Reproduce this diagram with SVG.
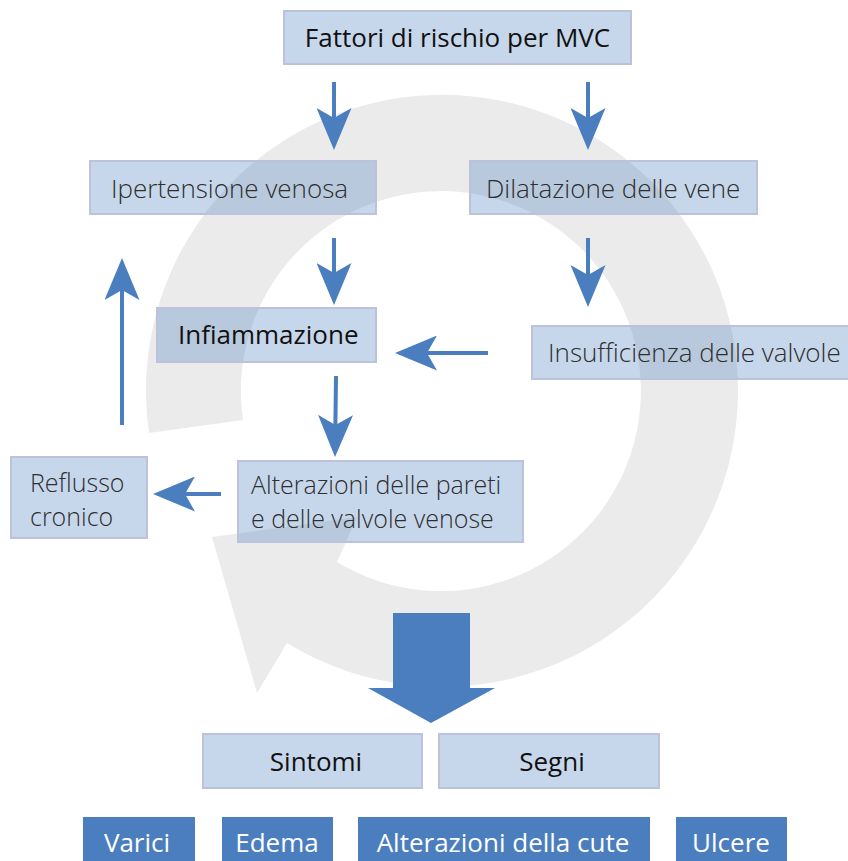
<svg xmlns="http://www.w3.org/2000/svg" width="848" height="861" viewBox="0 0 848 861">
<style>
.bg{fill:#ffffff}
.ring{fill:#ebebeb}
.box{fill:#4a7ebf;fill-opacity:0.31;stroke:#bcc2d9;stroke-width:2}
.dbox{fill:#4a7ebf}
.t{font-family:"Open Sans","Noto Sans","Liberation Sans",sans-serif;font-size:26px}
.t2{font-size:25px}
.lt{font-weight:300;fill:#2e2e2e}
.rg{font-weight:400;fill:#111111}
.md{font-weight:500;fill:#111111}
.wt{font-weight:400;fill:#ffffff}
.arr{stroke:#4a7ebf;stroke-width:4;fill:none;marker-end:url(#head)}
</style>
<defs>
<marker id="head" viewBox="0 0 42 35" refX="10" refY="17.5" markerWidth="42" markerHeight="35" markerUnits="userSpaceOnUse" orient="auto">
<path d="M0,0 L42,17.5 L0,35 L10,17.5 Z" fill="#4a7ebf"/>
</marker>
</defs>
<rect class="bg" x="0" y="0" width="848" height="861"/>
<g id="cycle">
<path class="ring" d="M149,433 A296,296 0 1 1 287,643 L257,693 L212,537 L357,517 L337,562 A200,200 0 1 0 243,420 Z"/>
</g>
<g id="connectors">
<line class="arr" x1="334" y1="82" x2="334" y2="118"/>
<line class="arr" x1="588" y1="82" x2="588" y2="118"/>
<line class="arr" x1="334" y1="238" x2="334" y2="273"/>
<line class="arr" x1="588" y1="238" x2="588" y2="275"/>
<line class="arr" x1="488" y1="353" x2="427" y2="353"/>
<line class="arr" x1="336" y1="376" x2="335.4" y2="425"/>
<line class="arr" x1="221" y1="494" x2="185" y2="494"/>
<line class="arr" x1="122" y1="425" x2="122" y2="290"/>
<path id="big-arrow" d="M393,613 L470,613 L470,688 L495,688 L431,723 L368,688 L393,688 Z" fill="#4a7ebf"/>
</g>
<g id="fattori">
<rect class="box" x="284" y="11" width="347" height="53"/>
<text class="t rg" x="457.5" y="47" text-anchor="middle">Fattori di rischio per MVC</text>
</g>
<g id="ipertensione">
<rect class="box" x="90" y="161" width="286" height="53"/>
<text class="t lt" x="111" y="198">Ipertensione venosa</text>
</g>
<g id="dilatazione">
<rect class="box" x="470" y="161" width="287" height="53"/>
<text class="t lt" x="486" y="198">Dilatazione delle vene</text>
</g>
<g id="infiammazione">
<rect class="box" x="157" y="308" width="219" height="54"/>
<text class="t md" x="178" y="344">Infiammazione</text>
</g>
<g id="insufficienza">
<rect class="box" x="532" y="326" width="330" height="53"/>
<text class="t lt" x="548" y="362">Insufficienza delle valvole</text>
</g>
<g id="reflusso">
<rect class="box" x="11" y="457" width="136" height="81"/>
<text class="t t2 lt" x="30" y="492">Reflusso</text>
<text class="t t2 lt" x="30" y="526">cronico</text>
</g>
<g id="alterazioni">
<rect class="box" x="238" y="461" width="285" height="81"/>
<text class="t t2 lt" x="251" y="494">Alterazioni delle pareti</text>
<text class="t t2 lt" x="251" y="528">e delle valvole venose</text>
</g>
<g id="sintomi">
<rect class="box" x="203" y="734" width="219" height="54"/>
<text class="t rg" x="316" y="771" text-anchor="middle">Sintomi</text>
</g>
<g id="segni">
<rect class="box" x="439" y="734" width="220" height="54"/>
<text class="t rg" x="552" y="771" text-anchor="middle">Segni</text>
</g>
<g id="varici">
<rect class="dbox" x="83" y="817" width="112" height="50"/>
<text class="t wt" x="137" y="852" text-anchor="middle">Varici</text>
</g>
<g id="edema">
<rect class="dbox" x="222" y="817" width="111" height="50"/>
<text class="t wt" x="277" y="852" text-anchor="middle">Edema</text>
</g>
<g id="cute">
<rect class="dbox" x="358" y="817" width="292" height="50"/>
<text class="t wt" x="503" y="852" text-anchor="middle">Alterazioni della cute</text>
</g>
<g id="ulcere">
<rect class="dbox" x="676" y="817" width="111" height="50"/>
<text class="t wt" x="731" y="852" text-anchor="middle">Ulcere</text>
</g>
</svg>
